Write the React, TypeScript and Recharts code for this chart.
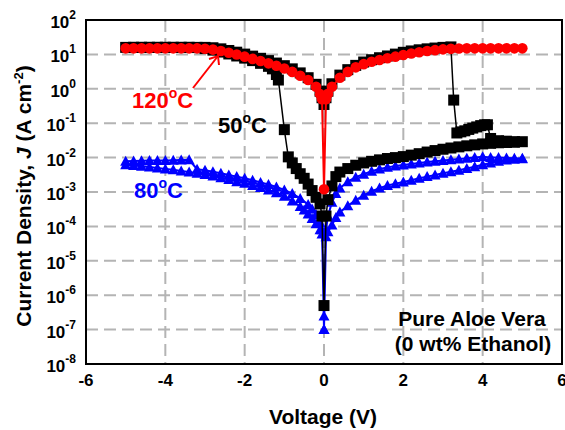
import React from 'react';
import { ScatterChart, Scatter, XAxis, YAxis, CartesianGrid, ReferenceArea } from 'recharts';

// axis ticks
const xTicks = [-6, -4, -2, 0, 2, 4, 6];
const yTicks = [1e-8, 1e-7, 1e-6, 1e-5, 1e-4, 1e-3, 1e-2, 1e-1, 1e0, 1e1, 1e2];
const yMinorTicks = yTicks.slice(0, -1).flatMap((t) => [2, 3, 4, 5, 6, 7, 8, 9].map((m) => m * t));

// 120 C (red circles) - forward and reverse sweeps overlap
const red120Pos: [number, number][] = [
  [0, 1.2e-3], [0.05, 0.5], [0.1, 0.72], [0.2, 1.15], [0.4, 2.1], [0.6, 3.1], [0.8, 4.2], [1.0, 5.2],
  [1.2, 6.1], [1.4, 6.9], [1.6, 7.7], [1.8, 8.6], [2.0, 9.6], [2.2, 10.6], [2.4, 11.6], [2.6, 12.5],
  [2.8, 13.3], [3.0, 14], [3.2, 14.5], [3.4, 14.8], [3.6, 15], [3.8, 15], [4.0, 15], [4.2, 15],
  [4.4, 15], [4.6, 15], [4.8, 15], [5.0, 15],
];
const red120Neg: [number, number][] = [
  [-0.05, 0.5], [-0.1, 0.7], [-0.2, 1.15], [-0.4, 1.8], [-0.6, 2.4], [-0.8, 3.1], [-1.0, 3.9], [-1.2, 4.7],
  [-1.4, 5.5], [-1.6, 6.4], [-1.8, 7.4], [-2.0, 8.6], [-2.2, 9.9], [-2.4, 11.2], [-2.6, 12.6], [-2.8, 13.8],
  [-3.0, 14.6], [-3.2, 15], [-3.4, 15], [-3.6, 15], [-3.8, 15], [-4.0, 15], [-4.2, 15], [-4.4, 15],
  [-4.6, 15], [-4.8, 15], [-5.0, 15],
];

// 50 C (black squares), sweep 0 -> +5 -> 0 -> -5 -> 0
const black50HighPos: [number, number][] = [
  [0, 0.35], [0.05, 0.55], [0.1, 0.85], [0.2, 1.4], [0.4, 2.5], [0.6, 3.6], [0.8, 4.8], [1.0, 6],
  [1.2, 7], [1.4, 8], [1.6, 9], [1.8, 10.2], [2.0, 11.5], [2.2, 12.6], [2.4, 13.6], [2.6, 14.5],
  [2.8, 15.3], [3.0, 16], [3.2, 16.5],
];
const black50Reset: [number, number][] = [
  [3.27, 0.47], [3.35, 0.052], [3.45, 0.056], [3.55, 0.06], [3.65, 0.066], [3.75, 0.072], [3.85, 0.078],
  [3.95, 0.085], [4.05, 0.09], [4.12, 0.09], [4.2, 0.036], [4.4, 0.031], [4.6, 0.03], [4.8, 0.029], [5.0, 0.029],
];
const black50LowRet: [number, number][] = [
  [4.8, 0.028], [4.6, 0.0275], [4.4, 0.027], [4.2, 0.026], [4.0, 0.025], [3.8, 0.0235], [3.6, 0.022],
  [3.4, 0.0205], [3.2, 0.019], [3.0, 0.0175], [2.8, 0.016], [2.6, 0.0145], [2.4, 0.013], [2.2, 0.0118],
  [2.0, 0.0107], [1.8, 0.01], [1.6, 0.0094], [1.4, 0.0086], [1.2, 0.0078], [1.0, 0.007], [0.8, 0.006],
  [0.6, 0.0048], [0.4, 0.0038], [0.3, 0.0028], [0.2, 0.0015], [0.1, 6e-4], [0.05, 2e-4], [0, 5e-7],
];
const black50LowNeg: [number, number][] = [
  [-0.05, 2e-4], [-0.1, 4.5e-4], [-0.2, 7e-4], [-0.3, 1.1e-3], [-0.4, 1.7e-3], [-0.5, 2.5e-3],
  [-0.6, 3.4e-3], [-0.7, 4.8e-3], [-0.8, 7e-3], [-0.9, 0.0105], [-1.0, 0.065],
];
const black50SetNeg: [number, number][] = [
  [-1.15, 1.8], [-1.2, 2.6], [-1.3, 3.8], [-1.4, 4.5], [-1.6, 5.5], [-1.8, 6.6], [-2.0, 7.8], [-2.2, 9],
  [-2.4, 10.3], [-2.6, 11.7], [-2.8, 13.3], [-3.0, 14.8], [-3.2, 15.8], [-3.4, 16], [-3.6, 16], [-3.8, 16],
  [-4.0, 16], [-4.2, 16], [-4.4, 16], [-4.6, 16], [-4.8, 16], [-5.0, 16],
];
const black50HighRet: [number, number][] = [
  [-4.8, 16], [-4.6, 16], [-4.4, 16], [-4.2, 16], [-4.0, 16], [-3.8, 16], [-3.6, 16], [-3.4, 16],
  [-3.2, 16], [-3.0, 16], [-2.8, 15.6], [-2.6, 14.5], [-2.4, 13], [-2.2, 11.6], [-2.0, 10.2], [-1.8, 8.9],
  [-1.6, 7.7], [-1.4, 6.6], [-1.2, 5.6], [-1.0, 4.7], [-0.8, 3.8], [-0.6, 2.9], [-0.4, 2.1], [-0.2, 1.35],
  [-0.1, 0.85], [-0.05, 0.55],
];

// 80 C (blue triangles)
const blue80PosFwd: [number, number][] = [
  [0, 1e-7], [0.05, 5e-5], [0.1, 7e-5], [0.2, 1.1e-4], [0.3, 1.8e-4], [0.4, 2.6e-4], [0.6, 4e-4],
  [0.8, 5.8e-4], [1.0, 8e-4], [1.2, 1.05e-3], [1.4, 1.3e-3], [1.6, 1.55e-3], [1.8, 1.75e-3], [2.0, 1.95e-3],
  [2.2, 2.2e-3], [2.4, 2.5e-3], [2.6, 2.8e-3], [2.8, 3.1e-3], [3.0, 3.5e-3], [3.2, 3.9e-3], [3.4, 4.3e-3],
  [3.6, 4.8e-3], [3.8, 5.4e-3], [4.0, 6.2e-3], [4.2, 7e-3], [4.4, 7.8e-3], [4.6, 8.5e-3], [4.8, 9e-3],
  [5.0, 9.3e-3],
];
const blue80PosRet: [number, number][] = [
  [5.0, 9.5e-3], [4.8, 9.6e-3], [4.6, 9.8e-3], [4.4, 1e-2], [4.2, 1e-2], [4.0, 1.05e-2], [3.8, 1e-2],
  [3.6, 9.5e-3], [3.4, 9.1e-3], [3.2, 8.7e-3], [3.0, 8.2e-3], [2.8, 7.8e-3], [2.6, 7.4e-3], [2.4, 7e-3],
  [2.2, 6.5e-3], [2.0, 6.1e-3], [1.8, 5.7e-3], [1.6, 5.2e-3], [1.4, 4.7e-3], [1.2, 4e-3], [1.0, 3.3e-3],
  [0.8, 2.7e-3], [0.6, 2e-3], [0.4, 1.3e-3], [0.3, 9e-4], [0.2, 5e-4], [0.1, 2e-4], [0.05, 8e-5],
  [0, 2.5e-7],
];
const blue80NegFwd: [number, number][] = [
  [-0.05, 6e-5], [-0.1, 8e-5], [-0.2, 1.2e-4], [-0.3, 1.7e-4], [-0.4, 2.3e-4], [-0.5, 3e-4], [-0.6, 3.8e-4],
  [-0.8, 5.5e-4], [-1.0, 7.5e-4], [-1.2, 9.5e-4], [-1.4, 1.15e-3], [-1.6, 1.35e-3], [-1.8, 1.55e-3],
  [-2.0, 1.8e-3], [-2.2, 2e-3], [-2.4, 2.3e-3], [-2.6, 2.6e-3], [-2.8, 2.9e-3], [-3.0, 3.2e-3],
  [-3.2, 3.5e-3], [-3.4, 3.8e-3], [-3.6, 4.1e-3], [-3.8, 4.4e-3], [-4.0, 4.7e-3], [-4.2, 5e-3],
  [-4.4, 5.3e-3], [-4.6, 5.6e-3], [-4.8, 5.9e-3], [-5.0, 6.2e-3],
];
const blue80NegRet: [number, number][] = [
  [-5.0, 7.8e-3], [-4.8, 8e-3], [-4.6, 8.1e-3], [-4.4, 8.2e-3], [-4.2, 8.3e-3], [-4.0, 8.3e-3],
  [-3.8, 8.4e-3], [-3.6, 8.5e-3], [-3.4, 8.6e-3], [-3.2, 4.6e-3], [-3.0, 4.3e-3], [-2.8, 3.9e-3],
  [-2.6, 3.5e-3], [-2.4, 3.1e-3], [-2.2, 2.8e-3], [-2.0, 2.5e-3], [-1.8, 2.2e-3], [-1.6, 1.9e-3],
  [-1.4, 1.65e-3], [-1.2, 1.4e-3], [-1.0, 1.15e-3], [-0.8, 9e-4], [-0.6, 6.5e-4], [-0.4, 4.3e-4],
  [-0.3, 3.2e-4], [-0.2, 2.2e-4], [-0.1, 1.3e-4], [-0.05, 8e-5], [0, 1e-7],
];

const toPts = (arr: [number, number][]) => arr.map(([v, j]) => ({ v, j }));

const red120 = toPts([...red120Pos].reverse().concat(red120Neg));
const black50 = toPts([
  ...black50HighPos, ...black50Reset, ...black50LowRet,
  ...black50LowNeg, ...black50SetNeg, ...black50HighRet,
]);
const blue80 = toPts([...blue80PosFwd, ...blue80PosRet, ...blue80NegFwd, ...blue80NegRet]);

const FONT = '"Liberation Sans", Arial, sans-serif';

const Square = (p: any) => <rect x={p.cx - 5.5} y={p.cy - 5.5} width={11} height={11} fill="#000" />;
const Dot = (p: any) => <circle cx={p.cx} cy={p.cy} r={5.3} fill="#ff0000" />;
const Tri = (p: any) => (
  <polygon points={`${p.cx},${p.cy - 5.5} ${p.cx + 5.5},${p.cy + 4.5} ${p.cx - 5.5},${p.cy + 4.5}`} fill="#0000ff" />
);

const YTick = ({ x, y, payload }: any) => {
  const exp = Math.round(Math.log10(payload.value));
  return (
    <text x={x} y={y + 8} textAnchor="end" fontFamily={FONT} fontWeight="bold" fontSize={17} fill="#000">
      10
      <tspan dy={-9} fontSize={12}>{exp}</tspan>
    </text>
  );
};

const XTick = ({ x, y, payload }: any) => (
  <text x={x} y={y} dy="0.71em" textAnchor="middle" fontFamily={FONT} fontWeight="bold" fontSize={17} fill="#000">
    {payload.value}
  </text>
);

const NoTick = () => <g />;

export default function App() {
  return (
    <div style={{ position: 'absolute', left: 0, top: 0, width: 565, height: 430, background: '#fff' }}>
      <ScatterChart width={565} height={430} margin={{ top: 20, right: 3, bottom: 26, left: 16 }}>
        <CartesianGrid stroke="#b4b4b4" strokeWidth={2} strokeDasharray="12 6" />
        <XAxis
          type="number" dataKey="v" domain={[-6, 6]} ticks={xTicks} interval={0} allowDataOverflow
          height={40} tickLine={false} tickSize={0} tickMargin={10} tick={<XTick />}
          axisLine={{ stroke: '#000', strokeWidth: 2 }}
        />
        <YAxis
          type="number" dataKey="j" scale="log" domain={[1e-8, 1e2]} ticks={yTicks} interval={0} allowDataOverflow
          width={70} tickLine={false} tickSize={0} tickMargin={10} tick={<YTick />}
          axisLine={{ stroke: '#000', strokeWidth: 2 }}
        />
        <XAxis
          xAxisId="major" type="number" domain={[-6, 6]} ticks={xTicks} interval={0} allowDataOverflow mirror
          height={0} axisLine={false} tickSize={7} tick={NoTick} tickLine={{ stroke: '#000', strokeWidth: 2 }}
        />
        <YAxis
          yAxisId="major" type="number" scale="log" domain={[1e-8, 1e2]} ticks={yTicks} interval={0} allowDataOverflow mirror
          width={0} axisLine={false} tickSize={7} tick={NoTick} tickLine={{ stroke: '#000', strokeWidth: 2 }}
        />
        <YAxis
          yAxisId="minor" type="number" scale="log" domain={[1e-8, 1e2]} ticks={yMinorTicks} interval={0} allowDataOverflow mirror
          width={0} axisLine={false} tickSize={4} tick={NoTick} tickLine={{ stroke: '#000', strokeWidth: 1.5 }}
        />
        <ReferenceArea x1={-6} x2={6} y1={1e-8} y2={1e2} fill="none" stroke="#000" strokeWidth={2} />
        <Scatter
          data={blue80} shape={Tri} line={{ stroke: '#0000ff', strokeWidth: 2 }} lineType="joint"
          isAnimationActive={false}
        />
        <Scatter
          data={black50} shape={Square} line={{ stroke: '#000', strokeWidth: 1.5 }} lineType="joint"
          isAnimationActive={false}
        />
        <Scatter
          data={red120} shape={Dot} line={{ stroke: '#ff0000', strokeWidth: 2 }} lineType="joint"
          isAnimationActive={false}
        />
      </ScatterChart>
      <svg
        width={565} height={430}
        style={{ position: 'absolute', left: 0, top: 0, pointerEvents: 'none' }}
        fontFamily={FONT} fontWeight="bold"
      >
        <text transform="translate(31,196) rotate(-90)" textAnchor="middle" fontSize={21} fill="#000">
          Current Density, <tspan fontStyle="italic">J</tspan> (A cm
          <tspan dy={-8} fontSize={13}>-2</tspan>
          <tspan dy={8}>)</tspan>
        </text>
        <text x={323} y={424} textAnchor="middle" fontSize={21} fill="#000">Voltage (V)</text>

        <text x={132} y={108} fontSize={22} fill="#ff0000">
          120<tspan dy={-10} fontSize={14}>o</tspan><tspan dy={10}>C</tspan>
        </text>
        <line x1={193} y1={88} x2={218} y2={56} stroke="#ff0000" strokeWidth={2} />
        <polyline points="209,59 218,56 219,65" fill="none" stroke="#ff0000" strokeWidth={2} />

        <text x={218} y={133} fontSize={22} fill="#000">
          50<tspan dy={-10} fontSize={14}>o</tspan><tspan dy={10}>C</tspan>
        </text>
        <text x={134} y={198} fontSize={22} fill="#0000ff">
          80<tspan dy={-10} fontSize={14}>o</tspan><tspan dy={10}>C</tspan>
        </text>

        <text x={472} y={326} textAnchor="middle" fontSize={21} fill="#000">Pure Aloe Vera</text>
        <text x={473} y={351} textAnchor="middle" fontSize={21} fill="#000">(0 wt% Ethanol)</text>
      </svg>
    </div>
  );
}
